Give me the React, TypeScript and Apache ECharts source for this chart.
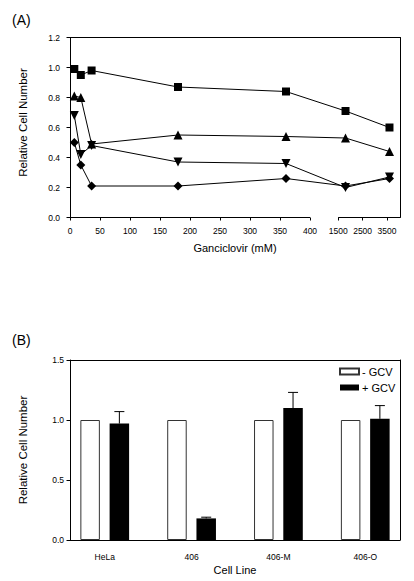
import { useEffect, useRef } from 'react';
import * as echarts from 'echarts';

// ---------- Panel A data ----------
const concentrations = [7.2, 18, 36, 180, 360, 1800, 3600];
const squareValues = [0.99, 0.95, 0.98, 0.87, 0.84, 0.71, 0.6];
const triangleUpValues = [0.81, 0.8, 0.49, 0.55, 0.54, 0.53, 0.44];
const triangleDownValues = [0.68, 0.42, 0.48, 0.37, 0.36, 0.2, 0.27];
const diamondValues = [0.5, 0.35, 0.21, 0.21, 0.26, 0.21, 0.26];
const xTickValuesA = [0, 50, 100, 150, 200, 250, 300, 350, 400, 1500, 2500, 3500];

// ---------- Panel B data ----------
const cellLines = ['HeLa', '406', '406-M', '406-O'];
const withoutGcv = [1, 1, 1, 1];
const withGcv = [0.97, 0.18, 1.1, 1.01];
const withGcvError = [0.1, 0.01, 0.13, 0.11];

// ---------- broken x scale (panel A) ----------
const BREAK_LOW = 400;
const BREAK_HIGH = 1500;
const BREAK_GAP = 47;
const HIGH_SCALE = 0.0407;
const X_DISPLAY_MAX = 550;

function toDisplay(x: number): number {
  return x <= BREAK_LOW ? x : BREAK_LOW + BREAK_GAP + (x - BREAK_HIGH) * HIGH_SCALE;
}

const FONT = "'Liberation Sans', Arial, Helvetica, sans-serif";
const BAR_W = 19.5;
const BAR_GAP_RATIO = 0.5;

export default function App() {
  const ref = useRef<HTMLDivElement>(null);

  useEffect(() => {
    if (!ref.current) return;
    const chart = echarts.init(ref.current, null, { renderer: 'svg' });

    const lineSeries = (name: string, values: number[], symbol: string, size: number, rotate = 0) => ({
      name,
      type: 'line',
      xAxisIndex: 0,
      yAxisIndex: 0,
      data: concentrations.map((c, i) => [toDisplay(c), values[i]]),
      symbol,
      symbolSize: size,
      symbolRotate: rotate,
      showAllSymbol: true,
      clip: false,
      lineStyle: { color: '#000', width: 1 },
      itemStyle: { color: '#000', borderWidth: 0 },
      emphasis: { disabled: true },
      z: 3,
    });

    const frameAxis = (extra: any) => ({
      type: 'value',
      min: 0,
      max: 1,
      axisLine: { show: true, onZero: false, lineStyle: { color: '#000', width: 1 } },
      axisTick: { show: false },
      axisLabel: { show: false },
      splitLine: { show: false },
      ...extra,
    });

    const option: any = {
      animation: false,
      textStyle: { fontFamily: FONT, color: '#000' },
      title: [
        { text: '(A)', left: 12, top: 13, padding: 0, textStyle: { fontSize: 14, fontWeight: 'normal', fontFamily: FONT, color: '#000' } },
        { text: '(B)', left: 12, top: 333, padding: 0, textStyle: { fontSize: 14, fontWeight: 'normal', fontFamily: FONT, color: '#000' } },
      ],
      legend: {
        data: ['- GCV', '+ GCV'],
        orient: 'vertical',
        left: 339,
        top: 366,
        padding: 0,
        itemWidth: 19,
        itemHeight: 6,
        itemGap: 5,
        icon: 'rect',
        selectedMode: false,
        textStyle: { fontSize: 11, fontFamily: FONT, color: '#000', padding: [0, 0, 0, -2] },
      },
      grid: [
        { left: 70, top: 37.5, width: 330, height: 180 },
        { left: 70, top: 360, width: 330, height: 180 },
      ],
      xAxis: [
        {
          gridIndex: 0,
          type: 'value',
          min: 0,
          max: X_DISPLAY_MAX,
          position: 'bottom',
          name: 'Ganciclovir (mM)',
          nameLocation: 'middle',
          nameGap: 25,
          nameTextStyle: { fontSize: 11, fontFamily: FONT, color: '#000' },
          axisLine: { show: false, onZero: false },
          axisTick: {
            show: true,
            length: 3,
            customValues: xTickValuesA.map(toDisplay),
            lineStyle: { color: '#000', width: 1 },
          },
          axisLabel: {
            customValues: xTickValuesA.map(toDisplay),
            fontSize: 8.5,
            margin: 9,
            color: '#000',
            fontFamily: FONT,
            formatter: (v: number) => {
              const t = xTickValuesA.find((tv) => Math.abs(toDisplay(tv) - v) < 1e-6);
              return t === undefined ? '' : String(t);
            },
          },
          splitLine: { show: false },
        },
        frameAxis({ gridIndex: 0, position: 'top' }),
        {
          gridIndex: 1,
          type: 'value',
          min: -0.4,
          max: 3.4,
          position: 'bottom',
          name: 'Cell Line',
          nameLocation: 'middle',
          nameGap: 24,
          nameTextStyle: { fontSize: 11, fontFamily: FONT, color: '#000' },
          axisLine: { show: true, onZero: false, lineStyle: { color: '#000', width: 1 } },
          axisTick: { show: false },
          axisLabel: {
            customValues: cellLines.map((_, i) => i),
            fontSize: 8.5,
            margin: 12,
            color: '#000',
            fontFamily: FONT,
            formatter: (v: number) => cellLines[Math.round(v)] ?? '',
          },
          splitLine: { show: false },
        },
        frameAxis({ gridIndex: 1, position: 'top' }),
      ],
      yAxis: [
        {
          gridIndex: 0,
          type: 'value',
          min: 0,
          max: 1.2,
          interval: 0.2,
          name: 'Relative Cell Number',
          nameLocation: 'middle',
          nameGap: 41,
          nameTextStyle: { fontSize: 11.5, fontFamily: FONT, color: '#000', padding: [0, 0, 0, 10] },
          axisLine: { show: true, onZero: false, lineStyle: { color: '#000', width: 1 } },
          axisTick: { show: true, length: 3.5, lineStyle: { color: '#000', width: 1 } },
          axisLabel: { fontSize: 8.5, margin: 10, color: '#000', fontFamily: FONT, formatter: (v: number) => v.toFixed(1) },
          splitLine: { show: false },
        },
        frameAxis({ gridIndex: 0, position: 'right' }),
        {
          gridIndex: 1,
          type: 'value',
          min: 0,
          max: 1.5,
          interval: 0.5,
          name: 'Relative Cell Number',
          nameLocation: 'middle',
          nameGap: 41,
          nameTextStyle: { fontSize: 11.5, fontFamily: FONT, color: '#000' },
          axisLine: { show: true, onZero: false, lineStyle: { color: '#000', width: 1 } },
          axisTick: { show: true, length: 3.5, lineStyle: { color: '#000', width: 1 } },
          axisLabel: { fontSize: 8.5, margin: 6, color: '#000', fontFamily: FONT, formatter: (v: number) => v.toFixed(1) },
          splitLine: { show: false },
        },
        frameAxis({ gridIndex: 1, position: 'right' }),
      ],
      series: [
        {
          name: 'broken axis line',
          type: 'line',
          xAxisIndex: 0,
          yAxisIndex: 0,
          data: [
            [0, 0],
            [toDisplay(BREAK_LOW), 0],
            '-',
            [toDisplay(BREAK_HIGH), 0],
            [X_DISPLAY_MAX, 0],
          ],
          symbol: 'none',
          clip: false,
          silent: true,
          connectNulls: false,
          lineStyle: { color: '#000', width: 1 },
          emphasis: { disabled: true },
          z: 2,
        },
        lineSeries('squares', squareValues, 'rect', 8),
        lineSeries('triangles up', triangleUpValues, 'triangle', 9),
        lineSeries('triangles down', triangleDownValues, 'triangle', 9, 180),
        lineSeries('diamonds', diamondValues, 'diamond', 9),
        {
          name: '- GCV',
          type: 'bar',
          xAxisIndex: 2,
          yAxisIndex: 2,
          data: withoutGcv.map((v, i) => [i, v]),
          barWidth: BAR_W,
          barGap: `${BAR_GAP_RATIO * 100}%`,
          itemStyle: { color: '#fff', borderColor: '#333', borderWidth: 1 },
          emphasis: { disabled: true },
        },
        {
          name: '+ GCV',
          type: 'bar',
          xAxisIndex: 2,
          yAxisIndex: 2,
          data: withGcv.map((v, i) => [i, v]),
          barWidth: BAR_W,
          barGap: `${BAR_GAP_RATIO * 100}%`,
          itemStyle: { color: '#000' },
          emphasis: { disabled: true },
        },
        {
          name: 'error',
          type: 'custom',
          xAxisIndex: 2,
          yAxisIndex: 2,
          data: withGcv.map((v, i) => [i, v, withGcvError[i]]),
          renderItem: (_params: any, api: any) => {
            const i = api.value(0);
            const v = api.value(1);
            const e = api.value(2);
            const base = api.coord([i, v]);
            const top = api.coord([i, v + e]);
            const dx = (BAR_W + BAR_W * BAR_GAP_RATIO) / 2;
            const x = base[0] + dx;
            const style = { stroke: '#000', lineWidth: 1 };
            return {
              type: 'group',
              children: [
                { type: 'line', shape: { x1: x, y1: base[1], x2: x, y2: top[1] }, style },
                { type: 'line', shape: { x1: x - 5, y1: top[1], x2: x + 5, y2: top[1] }, style },
              ],
            };
          },
          z: 5,
          silent: true,
        },
      ],
    };

    chart.setOption(option);
    return () => chart.dispose();
  }, []);

  return <div ref={ref} style={{ position: 'absolute', left: 0, top: 0, width: 414, height: 581, background: '#fff' }} />;
}
